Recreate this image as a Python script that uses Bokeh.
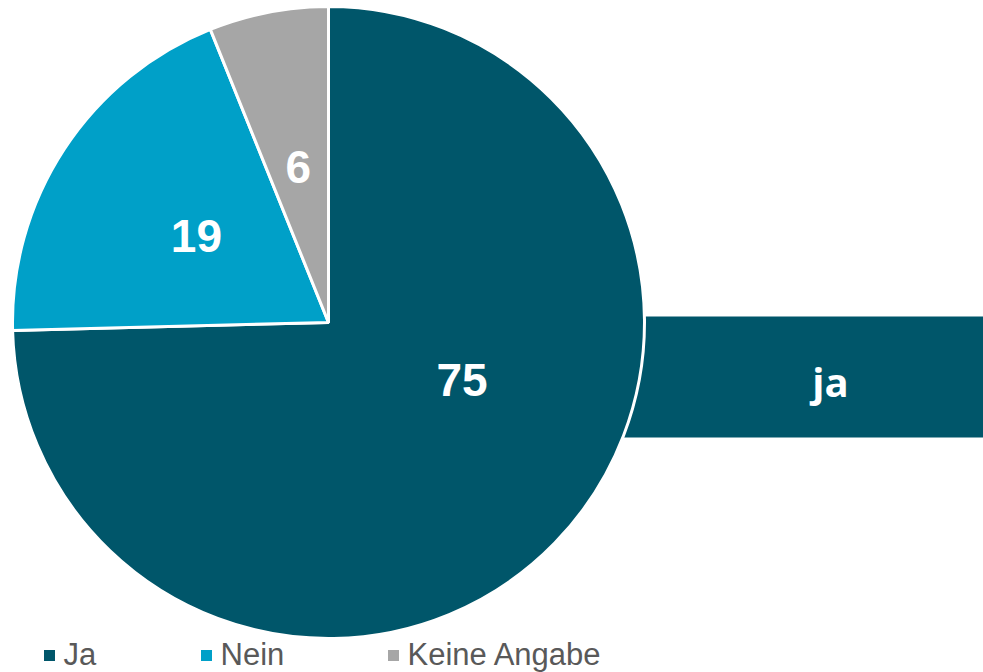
import math
from bokeh.plotting import figure
from bokeh.models import Range1d, ColumnDataSource, BoxAnnotation
from bokeh.core.properties import value
from bokeh.embed import file_html
from bokeh.resources import INLINE

# ---- data ----
categories = ["Ja", "Nein", "Keine Angabe"]
shares = [74.6, 19.3, 6.1]
shown_labels = ["75", "19", "6"]
colors = ["#00566A", "#00A0C8", "#A6A6A6"]
callout_text = "ja"

W, H = 983, 672
p = figure(width=W, height=H, output_backend="svg", toolbar_location=None,
           x_range=Range1d(0, W), y_range=Range1d(0, H), min_border=0)
p.axis.visible = False
p.grid.visible = False
p.outline_line_color = None
p.background_fill_color = "white"

cx, cy, r = 328, H - 322, 316

# callout bar behind the pie
p.add_layout(BoxAnnotation(left=560, right=W, top=H - 316, bottom=H - 437,
                           fill_color=colors[0], fill_alpha=1, line_color=None, level="underlay"))

total = sum(shares)
start = []
end = []
a = math.pi / 2
for s in shares:
    start.append(a)
    a -= s / total * 2 * math.pi
    end.append(a)

src = ColumnDataSource(dict(start=start, end=end, color=colors, cat=categories))
p.wedge(x=cx, y=cy, radius=r, start_angle="start", end_angle="end", direction="clock",
        fill_color="color", line_color="white", line_width=3, source=src)

# slice labels
lx, ly = [], []
nudge = {0: 21.0}  # degrees, label of first slice moved (as in original)
for i, (s0, s1) in enumerate(zip(start, end)):
    mid = (s0 + s1) / 2 + math.radians(nudge.get(i, 0))
    f = 0.46 if i == 0 else 0.5
    lx.append(cx + f * r * math.cos(mid))
    ly.append(cy + f * r * math.sin(mid))
p.text(x=lx, y=ly, text=shown_labels, text_color="white", text_font=value("Liberation Sans"),
       text_font_style="bold", text_font_size="46px", text_align="center", text_baseline="middle")

# callout text
p.text(x=[830], y=[H - 381], text=[callout_text], text_color="white", text_font=value("Open Sans"),
       text_font_style="bold", text_font_size="40px", text_align="center", text_baseline="middle")

# legend
sq_x = [49, 206, 393]
p.rect(x=sq_x, y=[H - 655] * 3, width=11, height=11, fill_color=colors, line_color=None)
p.text(x=[v + 14 for v in sq_x], y=[H - 654] * 3, text=categories, text_color="#595959",
       text_font=value("Liberation Sans"), text_font_size="31px", text_align="left",
       text_baseline="middle")

open("out.html", "w").write(file_html(p, INLINE))
